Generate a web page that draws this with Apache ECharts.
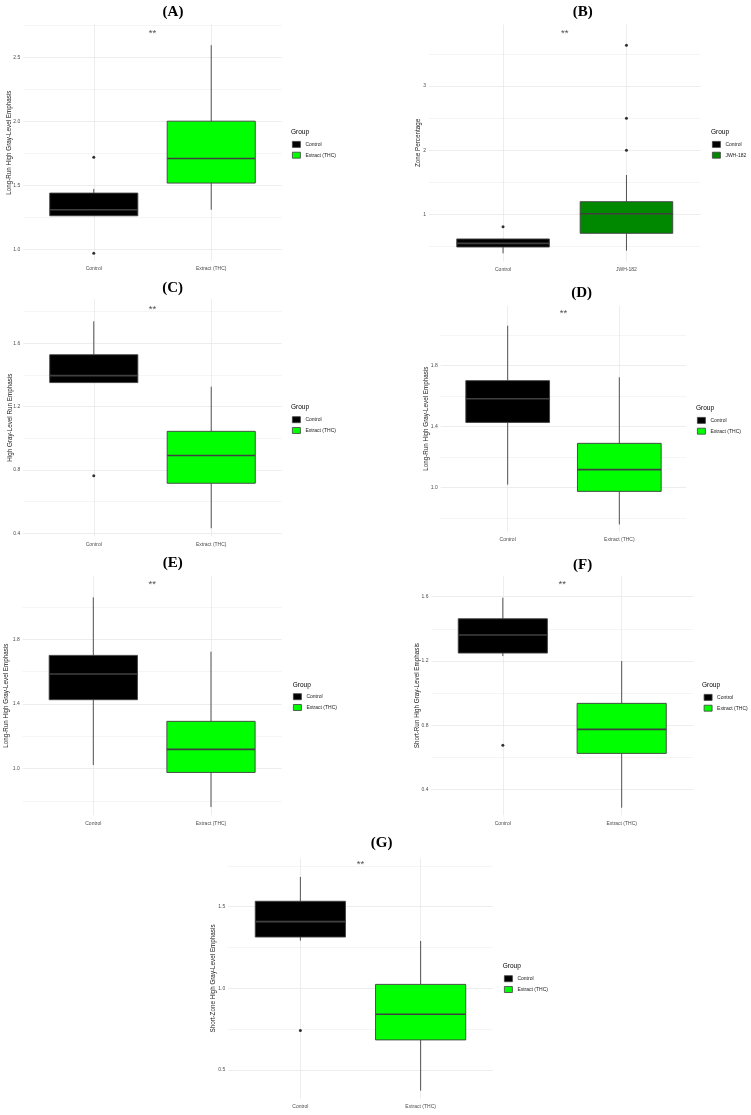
<!DOCTYPE html>
<html>
<head>
<meta charset="utf-8">
<script src="https://cdn.jsdelivr.net/npm/echarts@6/dist/echarts.min.js"></script>
<style>
  html, body { margin: 0; padding: 0; background: #fff; }
  #main { width: 751px; height: 1115px; }
</style>
</head>
<body>
<div id="main"></div>
<script>
// groups on the x axis of each panel
var groupsTHC = ['Control', 'Extract (THC)'];
var groupsJWH = ['Control', 'JWH-182'];

// box stats per group: [lower whisker, Q1, median, Q3, upper whisker]
var boxA = [[1.26, 1.263, 1.31, 1.44, 1.473], [1.31, 1.518, 1.71, 2.001, 2.594]];
var boxB = [[0.392, 0.491, 0.548, 0.616, 0.62], [0.434, 0.704, 1.01, 1.197, 1.613]];
var boxC = [[1.35, 1.352, 1.396, 1.528, 1.739], [0.432, 0.716, 0.891, 1.044, 1.326]];
var boxD = [[1.02, 1.427, 1.582, 1.70, 2.059], [0.76, 0.976, 1.118, 1.29, 1.722]];
var boxE = [[1.023, 1.427, 1.586, 1.701, 2.06], [0.763, 0.977, 1.12, 1.293, 1.724]];
var boxF = [[1.231, 1.25, 1.362, 1.463, 1.594], [0.288, 0.626, 0.775, 0.937, 1.2]];
var boxG = [[1.292, 1.314, 1.408, 1.533, 1.682], [0.373, 0.684, 0.841, 1.024, 1.29]];

// outliers per group
var outA = [[1.72, 0.971], []];
var outB = [[0.808], [1.997, 2.496, 3.634]];
var outC = [[0.764], []];
var outD = [[], []];
var outE = [[], []];
var outF = [[0.676], []];
var outG = [[0.741], []];

// height of the "**" mark in each panel
var sigY = [2.684, 3.825, 1.817, 2.138, 2.14, 1.675, 1.76];

// y tick labels
var ticksA = [1.0, 1.5, 2.0, 2.5];
var ticksB = [1, 2, 3];
var ticksC = [0.4, 0.8, 1.2, 1.6];
var ticksD = [1.0, 1.4, 1.8];
var ticksE = [1.0, 1.4, 1.8];
var ticksF = [0.4, 0.8, 1.2, 1.6];
var ticksG = [0.5, 1.0, 1.5];

var FONT = 'Liberation Sans';
var EDGE = '#404040';
var MAJ = '#e9e9e9', MIN = '#f3f3f3';

var panels = [
  { tag: '(A)', tx: 173, ty: 12, grid: { left: 23.3, top: 24.3, width: 258.4, height: 236.7 },
    yMin: 0.91, yMax: 2.757, half: 0.25, dec: 1, ticks: ticksA, nameGap: 11,
    yName: 'Long-Run High Gray-Level Emphasis', groups: groupsTHC, fills: ['#000000', '#00ff00'],
    box: boxA, out: outA, gx: 291, gy: 132.7, lx: 292, ly: 141 },
  { tag: '(B)', tx: 582.7, ty: 12.3, grid: { left: 429, top: 24.5, width: 271.5, height: 236.8 },
    yMin: 0.268, yMax: 3.958, half: 0.5, dec: 0, ticks: ticksB, nameGap: 7.4,
    yName: 'Zone Percentage', groups: groupsJWH, fills: ['#000000', '#008800'],
    box: boxB, out: outB, gx: 711, gy: 132.7, lx: 712, ly: 141 },
  { tag: '(C)', tx: 172.7, ty: 288.3, grid: { left: 23.3, top: 299, width: 258.4, height: 237.3 },
    yMin: 0.381, yMax: 1.88, half: 0.2, dec: 1, ticks: ticksC, nameGap: 10,
    yName: 'High Gray-Level Run Emphasis', groups: groupsTHC, fills: ['#000000', '#00ff00'],
    box: boxC, out: outC, gx: 291, gy: 407.7, lx: 292, ly: 416.3 },
  { tag: '(D)', tx: 581.7, ty: 293.3, grid: { left: 440.7, top: 306, width: 245.6, height: 225.3 },
    yMin: 0.715, yMax: 2.188, half: 0.2, dec: 1, ticks: ticksD, nameGap: 11.4,
    yName: 'Long-Run High Gray-Level Emphasis', groups: groupsTHC, fills: ['#000000', '#00ff00'],
    box: boxD, out: outD, gx: 696, gy: 408.7, lx: 697, ly: 417 },
  { tag: '(E)', tx: 172.7, ty: 562.7, grid: { left: 22.7, top: 576, width: 258.9, height: 239.3 },
    yMin: 0.712, yMax: 2.192, half: 0.2, dec: 1, ticks: ticksE, nameGap: 13.4,
    yName: 'Long-Run High Gray-Level Emphasis', groups: groupsTHC, fills: ['#000000', '#00ff00'],
    box: boxE, out: outE, gx: 292.7, gy: 685, lx: 293, ly: 693.3 },
  { tag: '(F)', tx: 582.7, ty: 565, grid: { left: 431.5, top: 576, width: 261.5, height: 239.3 },
    yMin: 0.241, yMax: 1.729, half: 0.2, dec: 1, ticks: ticksF, nameGap: 11.5,
    yName: 'Short-Run High Gray-Level Emphasis', groups: groupsTHC, fills: ['#000000', '#00ff00'],
    box: boxF, out: outF, gx: 702, gy: 685.7, lx: 703.7, ly: 694 },
  { tag: '(G)', tx: 381.7, ty: 843.3, grid: { left: 228.2, top: 858.3, width: 264.6, height: 240.4 },
    yMin: 0.324, yMax: 1.796, half: 0.25, dec: 1, ticks: ticksG, nameGap: 11.6,
    yName: 'Short-Zone High Gray-Level Emphasis', groups: groupsTHC, fills: ['#000000', '#00ff00'],
    box: boxG, out: outG, gx: 502.7, gy: 966.7, lx: 504, ly: 975.3 }
];

function renderBox(params, api) {
  var x = api.value(0);
  var lo = api.coord([x, api.value(1)]);
  var q1 = api.coord([x, api.value(2)]);
  var md = api.coord([x, api.value(3)]);
  var q3 = api.coord([x, api.value(4)]);
  var hi = api.coord([x, api.value(5)]);
  var hw = api.size([0.75, 0])[0] / 2;
  var cx = md[0];
  var ls = { stroke: EDGE, lineWidth: 0.9 };
  return {
    type: 'group',
    children: [
      { type: 'line', shape: { x1: cx, y1: q3[1], x2: cx, y2: hi[1] }, style: ls },
      { type: 'line', shape: { x1: cx, y1: q1[1], x2: cx, y2: lo[1] }, style: ls },
      { type: 'rect', shape: { x: cx - hw, y: q3[1], width: 2 * hw, height: q1[1] - q3[1] },
        style: { fill: api.visual('color'), stroke: EDGE, lineWidth: 0.9 } },
      { type: 'line', shape: { x1: cx - hw, y1: md[1], x2: cx + hw, y2: md[1] },
        style: { stroke: EDGE, lineWidth: 1.6 } }
    ]
  };
}

function hasTick(list, v) {
  return list.some(function (t) { return Math.abs(t - v) < 1e-6; });
}

var option = {
  animation: false,
  backgroundColor: '#ffffff',
  grid: [], xAxis: [], yAxis: [], series: [], legend: [], graphic: []
};

panels.forEach(function (p, i) {
  option.grid.push(p.grid);

  option.xAxis.push({
    type: 'value', gridIndex: i, min: 0.4, max: 2.6, minInterval: 1, maxInterval: 1,
    axisLine: { show: false }, axisTick: { show: false },
    axisLabel: {
      margin: 5.5, fontSize: 5, color: '#4d4d4d', fontFamily: FONT,
      showMinLabel: false, showMaxLabel: false,
      formatter: function (v) {
        var k = Math.round(v);
        return (Math.abs(v - k) < 1e-6 && p.groups[k - 1]) ? p.groups[k - 1] : '';
      }
    },
    splitLine: { show: true, showMinLine: false, showMaxLine: false, lineStyle: { color: MAJ, width: 0.8 } }
  });

  var first = Math.ceil(p.yMin / p.half - 1e-9) * p.half;
  var colors = hasTick(p.ticks, first) ? [MAJ, MIN] : [MIN, MAJ];
  option.yAxis.push({
    type: 'value', gridIndex: i, min: p.yMin, max: p.yMax, minInterval: p.half, maxInterval: p.half,
    name: p.yName, nameLocation: 'middle', nameGap: p.nameGap, nameRotate: 90, nameMoveOverlap: false,
    nameTextStyle: { fontSize: 6.3, color: '#1a1a1a', fontFamily: FONT },
    axisLine: { show: false }, axisTick: { show: false },
    axisLabel: {
      margin: 3, fontSize: 5, color: '#4d4d4d', fontFamily: FONT,
      showMinLabel: false, showMaxLabel: false,
      formatter: function (v) { return hasTick(p.ticks, v) ? v.toFixed(p.dec) : ''; }
    },
    splitLine: { show: true, showMinLine: false, showMaxLine: false, lineStyle: { color: colors, width: 0.8 } }
  });

  p.groups.forEach(function (g, gi) {
    option.series.push({
      type: 'custom', name: g, xAxisIndex: i, yAxisIndex: i, z: 3,
      itemStyle: { color: p.fills[gi] },
      encode: { x: 0, y: [1, 2, 3, 4, 5] },
      data: [[gi + 1].concat(p.box[gi])],
      renderItem: renderBox
    });
    if (p.out[gi].length) {
      option.series.push({
        type: 'scatter', xAxisIndex: i, yAxisIndex: i, z: 4, symbolSize: 3,
        itemStyle: { color: '#000' },
        data: p.out[gi].map(function (v) { return [gi + 1, v]; })
      });
    }
  });

  option.series.push({
    type: 'scatter', xAxisIndex: i, yAxisIndex: i, z: 5, symbolSize: 1, silent: true,
    itemStyle: { color: 'rgba(0,0,0,0)' },
    label: { show: true, position: 'inside', formatter: '**', fontSize: 9.5, color: '#222', fontFamily: FONT },
    data: [[1.5, sigY[i]]]
  });

  option.legend.push({
    orient: 'vertical', left: p.lx, top: p.ly, padding: 0,
    itemWidth: 8, itemHeight: 6, itemGap: 4, icon: 'rect', selectedMode: false,
    textStyle: { fontSize: 5, color: '#1a1a1a', fontFamily: FONT },
    data: p.groups.map(function (g, gi) {
      return { name: g, itemStyle: { color: p.fills[gi], borderColor: EDGE, borderWidth: 0.8 } };
    })
  });

  option.graphic.push({
    type: 'text', x: p.tx, y: p.ty,
    style: { text: p.tag, fontSize: 15, fontWeight: 'bold', fontFamily: 'Liberation Serif', fill: '#000',
             align: 'center', verticalAlign: 'middle', textAlign: 'center', textVerticalAlign: 'middle' }
  });
  option.graphic.push({
    type: 'text', x: p.gx, y: p.gy,
    style: { text: 'Group', fontSize: 6.5, fontFamily: FONT, fill: '#000',
             verticalAlign: 'middle', textVerticalAlign: 'middle' }
  });
});

var chart = echarts.init(document.getElementById('main'));
chart.setOption(option);
</script>
</body>
</html>
